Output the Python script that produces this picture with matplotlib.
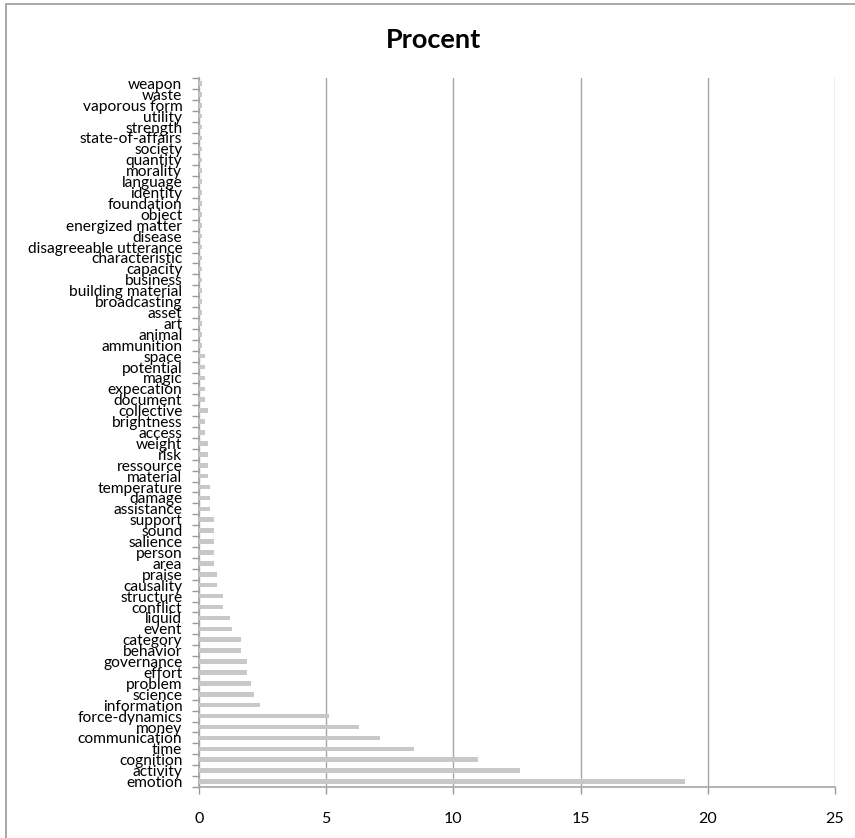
import matplotlib.pyplot as plt
import matplotlib.transforms as mtransforms
from matplotlib.patches import Rectangle
import numpy as np

# categories listed bottom to top
categories = [
    'emotion', 'activity', 'cognition', 'time', 'communication', 'money',
    'force-dynamics', 'information', 'science', 'problem', 'effort',
    'governance', 'behavior', 'category', 'event', 'liquid', 'conflict',
    'structure', 'causality', 'praise', 'area', 'person', 'salience', 'sound',
    'support', 'assistance', 'damage', 'temperature', 'material', 'ressource',
    'risk', 'weight', 'access', 'brightness', 'collective', 'document',
    'expecation', 'magic', 'potential', 'space', 'ammunition', 'animal', 'art',
    'asset', 'broadcasting', 'building material', 'business', 'capacity',
    'characteristic', 'disagreeable utterance', 'disease', 'energized matter',
    'object', 'foundation', 'identity', 'language', 'morality', 'quantity',
    'society', 'state-of-affairs', 'strength', 'utility', 'vaporous form',
    'waste', 'weapon',
]

procent = [
    19.1, 12.6, 10.95, 8.45, 7.1, 6.3,
    5.1, 2.4, 2.15, 2.05, 1.9,
    1.9, 1.65, 1.65, 1.3, 1.2, 0.95,
    0.95, 0.7, 0.7, 0.6, 0.6, 0.6, 0.6,
    0.6, 0.45, 0.45, 0.45, 0.35, 0.35,
    0.35, 0.35, 0.25, 0.25, 0.35, 0.25,
    0.25, 0.25, 0.25, 0.25, 0.1, 0.1, 0.1,
    0.1, 0.1, 0.1, 0.1, 0.1,
    0.1, 0.1, 0.1, 0.1,
    0.1, 0.1, 0.1, 0.1, 0.1, 0.1,
    0.1, 0.1, 0.1, 0.1, 0.1,
    0.1, 0.1,
]

x_ticks = [0, 5, 10, 15, 20, 25]

plt.rcParams['font.family'] = ['Lato', 'DejaVu Sans']

fig = plt.figure(figsize=(8.55, 8.38), dpi=100)
ax = fig.add_axes([199 / 855, 1 - 787 / 838, 636 / 855, 709 / 838])

# chart border
fig.patches.append(Rectangle((6 / 855, -0.1), 1.2, 1 - 4 / 838 + 0.1,
                             transform=fig.transFigure, fill=False,
                             edgecolor='#999999', linewidth=1.2))

pos = np.arange(len(categories))
ax.barh(pos, procent, height=0.42, color='#c8c8c8', zorder=3)

ax.set_xlim(0, 25)
ax.set_ylim(-0.5, len(categories) - 0.5)
ax.set_xticks(x_ticks)
ax.set_xticklabels([str(t) for t in x_ticks], fontsize=11.5)
ax.set_yticks(pos)
ax.set_yticklabels(categories, fontsize=11.2, linespacing=1.0)
ax.set_yticks(np.arange(len(categories) + 1) - 0.5, minor=True)

# category labels sit a little low, like the spreadsheet layout
shift = mtransforms.ScaledTranslation(0, -2.5 / 100, fig.dpi_scale_trans)
for lbl in ax.get_yticklabels():
    lbl.set_transform(lbl.get_transform() + shift)

ax.tick_params(axis='y', which='major', length=0, pad=12)
ax.tick_params(axis='y', which='minor', length=5, width=1, color='#999999', direction='out')
ax.tick_params(axis='x', length=5, width=1, color='#999999', direction='out', pad=13)

ax.grid(axis='x', color='#a6a6a6', linewidth=1, zorder=0)
for side in ['top', 'right']:
    ax.spines[side].set_visible(False)
for side in ['left', 'bottom']:
    ax.spines[side].set_color('#a6a6a6')
    ax.spines[side].set_linewidth(1.2)

fig.text(433 / 855, 1 - 48 / 838, 'Procent', ha='center', va='baseline',
         fontsize=19.5, fontweight='bold')

fig.savefig('out.png', dpi=100)
